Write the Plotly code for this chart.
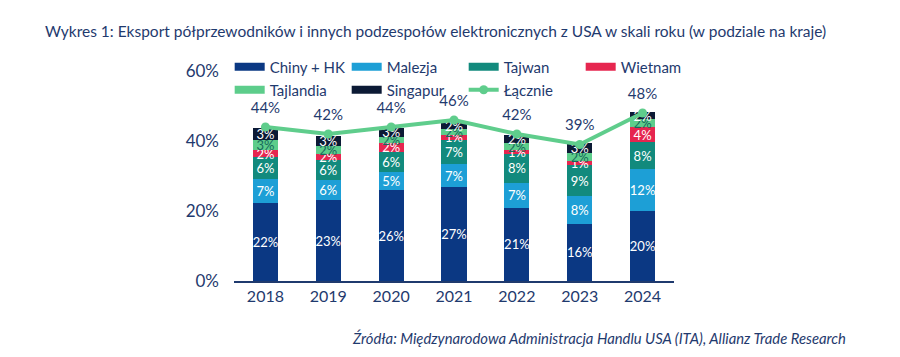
import plotly.graph_objects as go

years = ["2018", "2019", "2020", "2021", "2022", "2023", "2024"]
chiny = [22.3, 23.1, 26.0, 26.8, 20.9, 16.3, 20.0]
malezja = [6.8, 5.9, 5.2, 6.6, 7.1, 8.0, 12.0]
tajwan = [6.3, 5.6, 5.8, 7.0, 8.3, 8.8, 7.6]
wietnam = [2.0, 1.7, 2.4, 1.3, 1.1, 1.2, 4.3]
tajlandia = [2.9, 2.2, 1.7, 1.6, 1.9, 2.2, 2.3]
singapur = [3.4, 3.0, 2.7, 2.2, 2.4, 2.9, 2.0]
totals = [44, 42, 44, 46, 42, 39, 48]

NAVY = "#1f3a6e"
FONT = "Lato"

series = [
    ("Chiny + HK", chiny, "#0b3883", "white", "legend"),
    ("Malezja", malezja, "#1d9fd6", "white", "legend"),
    ("Tajwan", tajwan, "#128a7d", "white", "legend"),
    ("Wietnam", wietnam, "#e6264f", "white", "legend"),
    ("Tajlandia", tajlandia, "#5dcd8b", "#17695c", "legend2"),
    ("Singapur", singapur, "#0c1a35", "white", "legend2"),
]

fig = go.Figure()
for name, vals, color, tcolor, _ in series:
    fig.add_trace(go.Bar(
        x=years, y=vals, name=name, marker_color=color, marker_line_width=0,
        texttemplate="%{y:.0f}%", textposition="inside", textangle=0,
        insidetextanchor="middle", constraintext="none",
        textfont=dict(color=tcolor, size=13, family=FONT),
        showlegend=False, hoverinfo="x+y+name",
    ))

# legend proxies (wide swatches)
for name, vals, color, tcolor, lg in series:
    fig.add_trace(go.Scatter(
        x=[None], y=[None], mode="lines", name=name,
        line=dict(color=color, width=8), legend=lg, hoverinfo="skip",
    ))

LINE_C = "#5fcd8c"
fig.add_trace(go.Scatter(
    x=years, y=totals, mode="lines+markers", name="Łącznie",
    line=dict(color=LINE_C, width=4), marker=dict(color=LINE_C, size=9),
    legend="legend2",
))
fig.add_trace(go.Scatter(
    x=years, y=totals, mode="markers+text", text=[f"{v}%" for v in totals],
    marker=dict(size=15, color="rgba(0,0,0,0)"),
    textposition="top center", textfont=dict(color=NAVY, size=15, family=FONT),
    showlegend=False, hoverinfo="skip", cliponaxis=False,
))

fig.update_layout(
    width=900, height=357,
    margin=dict(l=234, r=226, t=71, b=76, autoexpand=False),
    barmode="stack", bargap=0.6,
    plot_bgcolor="white", paper_bgcolor="white",
    font=dict(family=FONT, color=NAVY, size=15),
    uniformtext=dict(minsize=13, mode="show"),
    title=dict(
        text="Wykres 1: Eksport półprzewodników i innych podzespołów elektronicznych z USA w skali roku (w podziale na kraje)",
        x=45 / 900, xanchor="left", xref="container",
        y=1 - 32 / 357, yanchor="middle", yref="container",
        font=dict(size=15.5, color=NAVY, family=FONT),
    ),
    legend=dict(
        orientation="h", x=-0.0098, xanchor="left", y=(281 - 67) / 210, yanchor="middle",
        entrywidth=72, traceorder="normal", font=dict(size=15, color=NAVY, family=FONT),
        bgcolor="rgba(0,0,0,0)",
    ),
    legend2=dict(
        orientation="h", x=-0.0098, xanchor="left", y=(281 - 90) / 210, yanchor="middle",
        entrywidth=72, traceorder="normal", font=dict(size=15, color=NAVY, family=FONT),
        bgcolor="rgba(0,0,0,0)",
    ),
    xaxis=dict(
        showline=True, linecolor="#1f3a6e", linewidth=1.5, ticks="",
        tickfont=dict(size=16, color=NAVY, family=FONT), showgrid=False,
    ),
    yaxis=dict(
        range=[0, 60], tickvals=[0, 20, 40, 60], ticktext=["0%", "20%", "40%", "60%"],
        showgrid=False, zeroline=False, showline=False, ticks="",
        ticklabelstandoff=14, tickfont=dict(size=17, color=NAVY, family=FONT),
    ),
    annotations=[dict(
        text="<i>Źródła: Międzynarodowa Administracja Handlu USA (ITA), Allianz Trade Research</i>",
        xref="paper", yref="paper", x=(848 - 234) / 440, y=(281 - 338) / 210,
        xanchor="right", yanchor="middle", showarrow=False,
        font=dict(size=14.8, color=NAVY, family=FONT),
    )],
)

fig.write_html("out.html", config={"displayModeBar": False},
               post_script="document.body.style.margin='0px';")
